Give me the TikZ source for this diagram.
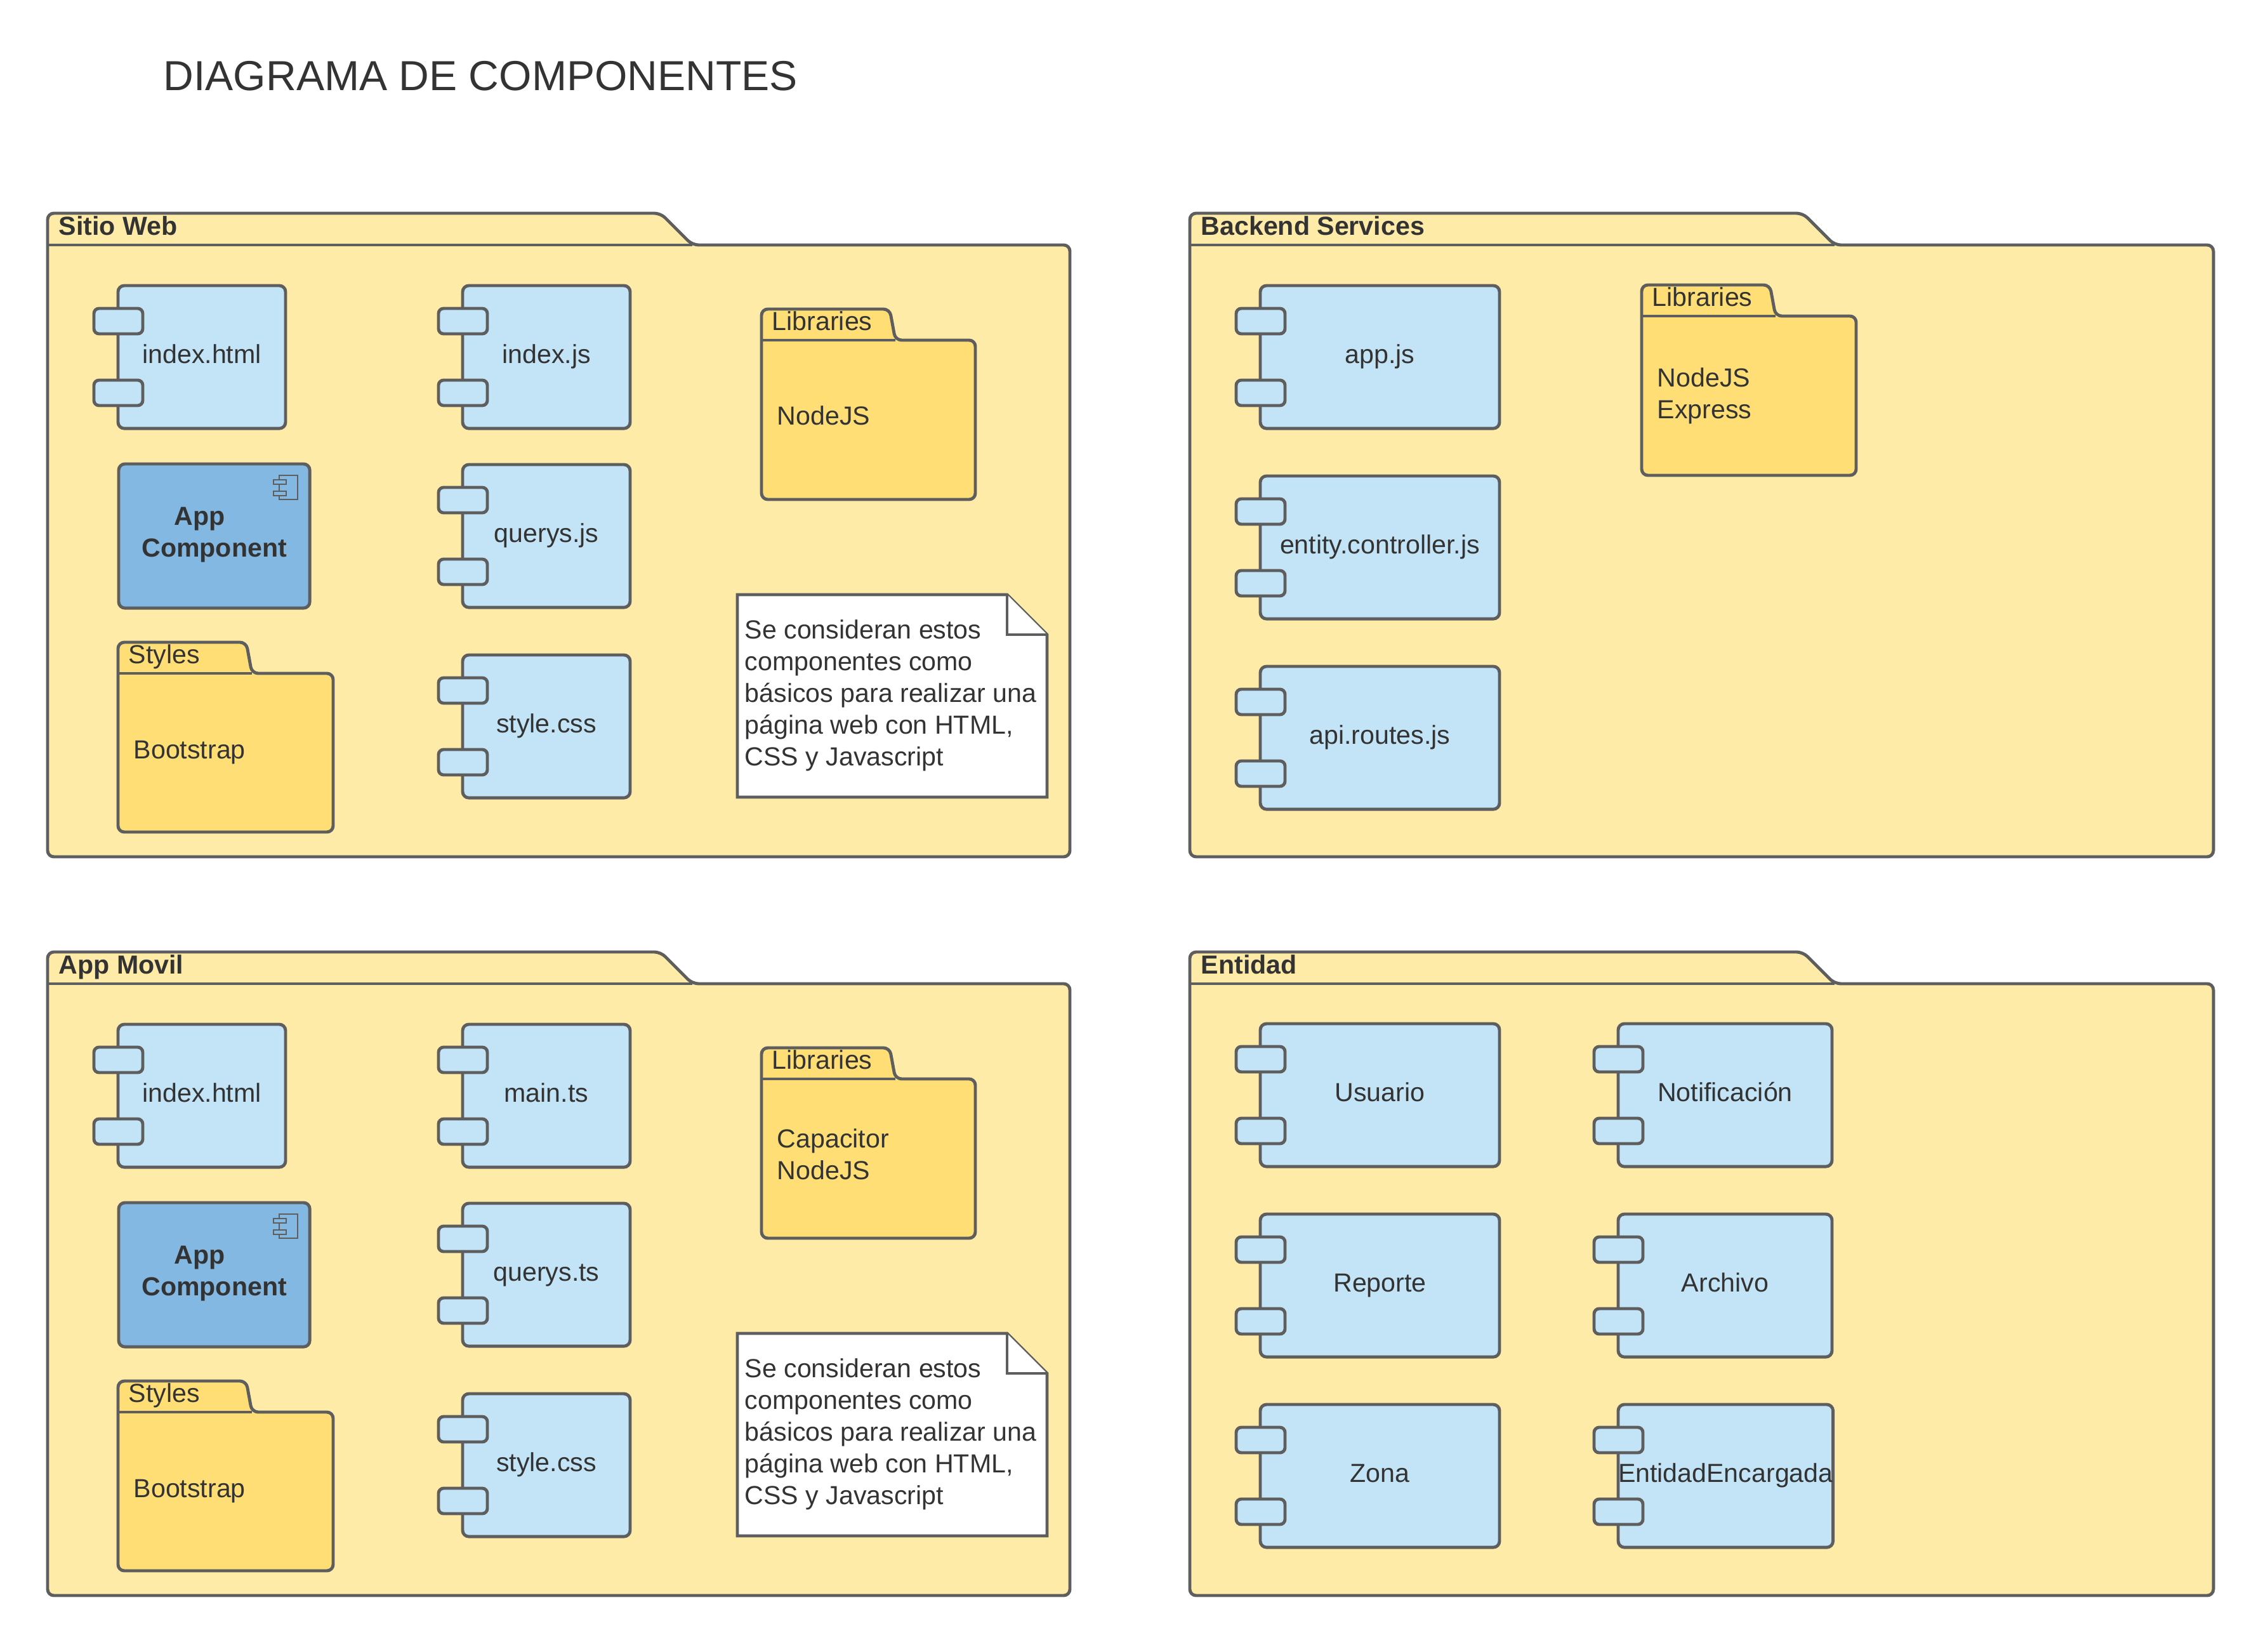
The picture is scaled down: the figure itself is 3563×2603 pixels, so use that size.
\documentclass[tikz,border=0pt]{standalone}
\usepackage{fontspec}
\setmainfont{Liberation Sans}
\usetikzlibrary{calc}
\definecolor{pkgfill}{HTML}{FFEBA8}
\definecolor{fldfill}{HTML}{FFDE75}
\definecolor{cmpfill}{HTML}{C2E4F6}
\definecolor{appfill}{HTML}{83B8E3}
\definecolor{strk}{HTML}{5E5E5E}
\definecolor{txt}{HTML}{333333}
\newcommand\lblfont{\fontsize{11.7pt}{14.2pt}\selectfont}
\tikzset{
  pkgshape/.style={draw=strk, fill=pkgfill, line width=1.4pt, rounded corners=2.8pt, line join=round},
  fldshape/.style={draw=strk, fill=fldfill, line width=1.4pt, rounded corners=2.8pt, line join=round},
  sepline/.style={draw=strk, line width=1.4pt},
  cmpbox/.style={draw=strk, fill=cmpfill, line width=1.4pt, rounded corners=2.8pt, inner sep=0pt, outer sep=0pt,
    minimum height=2.25cm, text=txt, font=\lblfont, align=center, text height=8.5pt, text depth=2.8pt},
  appbox/.style={draw=strk, fill=appfill, line width=1.4pt, rounded corners=2.8pt, inner sep=0pt, outer sep=0pt,
    minimum height=2.27cm, minimum width=3.01cm},
  apptext/.style={text=txt, font=\lblfont\bfseries, align=center, inner sep=0pt},
  port/.style={draw=strk, fill=cmpfill, line width=1.4pt, rounded corners=2.3pt},
  icon/.style={draw=strk, fill=appfill, line width=0.5pt},
  pkglabel/.style={text=txt, font=\lblfont\bfseries, inner sep=0pt},
  fldlabel/.style={text=txt, font=\lblfont, inner sep=0pt},
  fldtext/.style={text=txt, font=\lblfont, inner sep=0pt, align=left},
  notebox/.style={draw=strk, fill=white, line width=1.4pt, line join=miter},
  notetext/.style={text=txt, font=\lblfont, inner sep=0pt, align=left},
  titletext/.style={text=txt, font=\fontsize{18.8pt}{22pt}\selectfont, inner sep=0pt}
}
% package: name, x0, x1, tabtop, bottom, label
\newcommand\pkg[6]{%
  \draw[pkgshape] (#2,#5) -- (#2,#4) -- (#2+966,#4) -- (#2+1016,#4+50) -- (#3,#4+50) -- (#3,#5) -- cycle;
  \draw[sepline] (#2,#4+50) -- (#2+1016,#4+50);
  \node[pkglabel, anchor=base west] (#1) at (#2+17,#4+34) {#6};
}
% component: name, x, y, w, label
\newcommand\cmp[5]{%
  \node[cmpbox, minimum width=#4*0.01cm, anchor=north west] (#1) at (#2,#3) {#5};
  \draw[port] ($(#1.north west)+(-38,36)$) rectangle ++(77,40);
  \draw[port] ($(#1.north west)+(-38,149)$) rectangle ++(77,40);
}
% folder: name, x0, x1, bodytop, bottom, label, content, vertical shift of content
\newcommand\fld[8]{%
  \draw[fldshape] (#2,#5) -- (#2,#4-49) -- (#2+202,#4-49) -- (#2+211,#4) -- (#3,#4) -- (#3,#5) -- cycle;
  \draw[sepline] (#2,#4) -- (#2+211,#4);
  \node[fldlabel, anchor=base west] (#1-tab) at (#2+16,#4-16) {#6};
  \node[fldtext, anchor=west] (#1) at (#2+24,{(#4+#5)/2+#8}) {#7};
}
% app component: name, x, y
\newcommand\appcmp[3]{%
  \node[appbox, anchor=north west] (#1) at (#2,#3) {};
  \node[apptext] (#1-text) at ($(#1.center)+(0,-2)$) {App\hspace*{13pt}\\Component};
  \draw[icon] ($(#1.north west)+(253,18)$) rectangle ++(29,38);
  \draw[icon] ($(#1.north west)+(244,25)$) rectangle ++(20,7);
  \draw[icon] ($(#1.north west)+(244,43)$) rectangle ++(20,7);
}
% note: name, y0
\newcommand\cnote[2]{%
  \draw[notebox] (1162,#2) -- (1587,#2) -- (1650,#2+63) -- (1650,#2+319) -- (1162,#2+319) -- cycle;
  \draw[notebox] (1587,#2) -- (1587,#2+63) -- (1650,#2+63);
  \node[notetext, anchor=west] (#1) at (1173,#2+159) {Se consideran estos\\componentes como\\básicos para realizar una\\página web con HTML,\\CSS y Javascript};
}
\begin{document}
\begin{tikzpicture}[x=0.01cm, y=-0.01cm]
  \path[use as bounding box, fill=white] (0,0) rectangle (3563,2603);
  \node[titletext, anchor=base west] (title) at (257,143) {DIAGRAMA DE COMPONENTES};

  % ---------- Sitio Web ----------
  \pkg{sw}{75}{1686}{336}{1350}{Sitio Web}
  \cmp{sw-index}{186}{450}{264}{index.html}
  \cmp{sw-indexjs}{729}{450}{264}{index.js}
  \cmp{sw-querys}{729}{732}{264}{querys.js}
  \cmp{sw-style}{729}{1032}{264}{style.css}
  \appcmp{sw-app}{187}{731}
  \fld{sw-styles}{186}{525}{1061}{1311}{Styles}{Bootstrap}{0}
  \fld{sw-libs}{1200}{1537}{536}{787}{Libraries}{NodeJS}{-7}
  \cnote{sw-note}{937}

  % ---------- Backend Services ----------
  \pkg{bs}{1875}{3488}{336}{1350}{Backend Services}
  \cmp{bs-app}{1986}{450}{377}{app.js}
  \cmp{bs-entity}{1986}{750}{377}{entity.controller.js}
  \cmp{bs-routes}{1986}{1050}{377}{api.routes.js}
  \fld{bs-libs}{2587}{2925}{498}{749}{Libraries}{NodeJS\\Express}{0}

  % ---------- App Movil ----------
  \pkg{am}{75}{1686}{1500}{2514}{App Movil}
  \cmp{am-index}{186}{1614}{264}{index.html}
  \cmp{am-main}{729}{1614}{264}{main.ts}
  \cmp{am-querys}{729}{1896}{264}{querys.ts}
  \cmp{am-style}{729}{2196}{264}{style.css}
  \appcmp{am-app}{187}{1895}
  \fld{am-styles}{186}{525}{2225}{2475}{Styles}{Bootstrap}{0}
  \fld{am-libs}{1200}{1537}{1700}{1951}{Libraries}{Capacitor\\NodeJS}{-7}
  \cnote{am-note}{2101}

  % ---------- Entidad ----------
  \pkg{en}{1875}{3488}{1500}{2514}{Entidad}
  \cmp{en-usuario}{1986}{1613}{377}{Usuario}
  \cmp{en-reporte}{1986}{1913}{377}{Reporte}
  \cmp{en-zona}{1986}{2213}{377}{Zona}
  \cmp{en-notif}{2550}{1613}{337}{Notificación}
  \cmp{en-archivo}{2550}{1913}{337}{Archivo}
  \cmp{en-entidad}{2550}{2213}{337}{EntidadEncargada}
\end{tikzpicture}
\end{document}
